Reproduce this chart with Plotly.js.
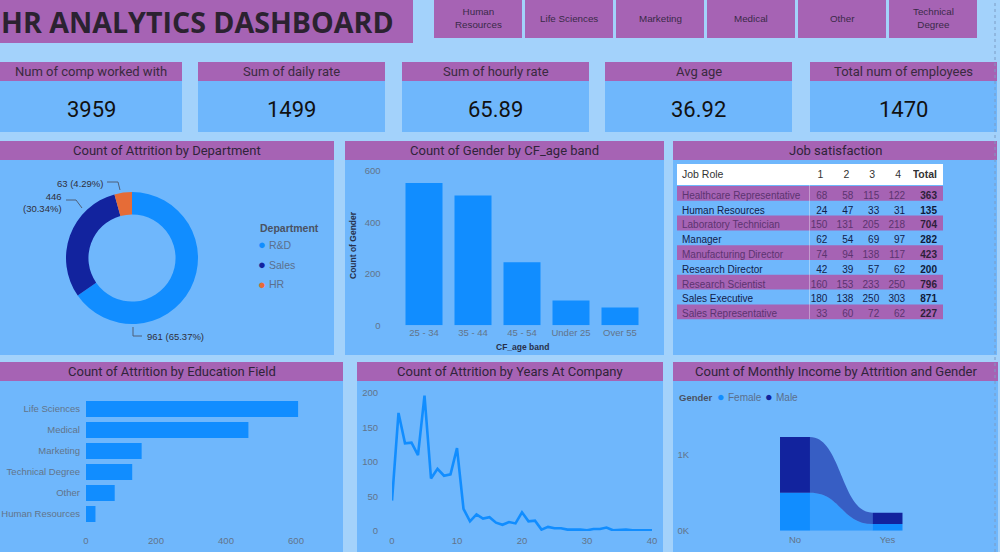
<!DOCTYPE html>
<html>
<head>
<meta charset="utf-8">
<script src="https://cdn.plot.ly/plotly-3.0.1.min.js"></script>
<style>
  html, body { margin: 0; padding: 0; background: #a2d0fb; overflow: hidden; }
  #dash { width: 1000px; height: 552px; }
</style>
</head>
<body>
<div id="dash"></div>
<script>
// ---- KPI cards ----
const kpiLabels = ['Num of comp worked with', 'Sum of daily rate', 'Sum of hourly rate', 'Avg age', 'Total num of employees'];
const kpiValues = ['3959', '1499', '65.89', '36.92', '1470'];

// ---- Education field slicer ----
const fieldButtons = ['Human<br>Resources', 'Life Sciences', 'Marketing', 'Medical', 'Other', 'Technical<br>Degree'];

// ---- Attrition by department ----
const departments = ['R&D', 'Sales', 'HR'];
const deptCounts = [961, 446, 63];

// ---- Gender by age band ----
const ageBands = ['25 - 34', '35 - 44', '45 - 54', 'Under 25', 'Over 55'];
const ageCounts = [554, 505, 245, 97, 69];

// ---- Job satisfaction by job role ----
const tableHeader = ['Job Role', '1', '2', '3', '4', 'Total'];
const jobRoles = ['Healthcare Representative', 'Human Resources', 'Laboratory Technician', 'Manager',
  'Manufacturing Director', 'Research Director', 'Research Scientist', 'Sales Executive', 'Sales Representative'];
const sat1 = [68, 24, 150, 62, 74, 42, 160, 180, 33];
const sat2 = [58, 47, 131, 54, 94, 39, 153, 138, 60];
const sat3 = [115, 33, 205, 69, 138, 57, 233, 250, 72];
const sat4 = [122, 31, 218, 97, 117, 62, 250, 303, 62];
const satTotal = [363, 135, 704, 282, 423, 200, 796, 871, 227];

// ---- Attrition by education field ----
const eduFields = ['Life Sciences', 'Medical', 'Marketing', 'Technical Degree', 'Other', 'Human Resources'];
const eduCounts = [606, 464, 159, 132, 82, 27];

// ---- Attrition by years at company ----
const years = [0, 1, 2, 3, 4, 5, 6, 7, 8, 9, 10, 11, 12, 13, 14, 15, 16, 17, 18, 19, 20, 21, 22, 23, 24, 25, 26, 27,
  29, 30, 31, 32, 33, 34, 36, 37, 40];
const yearCounts = [44, 171, 127, 128, 110, 196, 76, 90, 80, 82, 120, 32, 14, 24, 18, 20, 12, 9, 13, 11, 27, 14, 15, 2, 6, 4, 4, 2,
  2, 1, 3, 3, 5, 1, 2, 1, 1];

// ---- Monthly income count by attrition and gender ----
const attrition = ['No', 'Yes'];
const genders = ['Female', 'Male'];
const femaleCounts = [501, 87];
const maleCounts = [732, 150];

// ---- styling ----
const COL = {
  page: '#a3d2fb', panel: '#6fb7fc', purple: '#a663b4',
  blue: '#118dff', navy: '#12239e', orange: '#e66c37',
  ink: '#30243a', tick: '#62748a', legend: '#5b6f8c'
};
const deptColors = [COL.blue, COL.navy, COL.orange];
const genderColors = [COL.blue, COL.navy];
const DIN = 'Roboto, "Noto Sans", sans-serif';
const UI = '"Liberation Sans", Arial, sans-serif';

// pixel -> paper helpers for the dashboard frame
const W = 1000, H = 552;
const PX = p => p / W;
const PY = p => 1 - p / H;

const shapes = [];
const annotations = [];

function box(x0, y0, x1, y1, color) {
  shapes.push({ type: 'rect', xref: 'paper', yref: 'paper', layer: 'below',
    x0: PX(x0), x1: PX(x1), y0: PY(y1), y1: PY(y0), fillcolor: color, line: { width: 0 } });
}
function label(x, y, text, font, opts) {
  annotations.push(Object.assign({ xref: 'paper', yref: 'paper', x: PX(x), y: PY(y), text: text,
    showarrow: false, xanchor: 'center', yanchor: 'middle', font: font }, opts || {}));
}
function polyline(pts, color, layer) {
  const d = pts.map((p, i) => (i ? 'L' : 'M') + PX(p[0]) + ',' + PY(p[1])).join(' ');
  shapes.push({ type: 'path', xref: 'paper', yref: 'paper', path: d, line: { color: color, width: 1 }, layer: layer || 'above' });
}

// title block and slicer buttons
box(0, 0, 413, 43, COL.purple);
label(-1, 21, '<b>HR ANALYTICS DASHBOARD</b>', { family: '"Open Sans", sans-serif', size: 28.6, color: '#2b2230' }, { xanchor: 'left' });
fieldButtons.forEach((t, i) => {
  const x0 = 434 + i * 91;
  box(x0, 0, x0 + 88, 38, COL.purple);
  label(x0 + 44, 18, t, { family: UI, size: 9.8, color: '#3a2a48' });
});

// KPI cards
const kpiX = [[0, 182], [198, 385], [402, 589], [605, 792], [810, 997]];
kpiLabels.forEach((t, i) => {
  const [a, b] = kpiX[i];
  box(a, 62, b, 81, COL.purple);
  box(a, 81, b, 132, COL.panel);
  label((a + b) / 2, 71.5, t, { family: DIN, size: 13, color: '#3a2a40' });
  label((a + b) / 2, 109, kpiValues[i], { family: DIN, size: 22, color: '#111111' });
});

// visual panels: [x0, y0, x1, y1, title]
const panels = [
  [0, 141, 334, 355, 'Count of Attrition by Department'],
  [345, 141, 664, 355, 'Count of Gender by CF_age band'],
  [673, 141, 997, 355, 'Job satisfaction'],
  [0, 362, 343, 552, 'Count of Attrition by Education Field'],
  [357, 362, 663, 552, 'Count of Attrition by Years At Company'],
  [673, 362, 998, 552, 'Count of Monthly Income by Attrition and Gender']
];
panels.forEach(([x0, y0, x1, y1, t]) => {
  box(x0, y0, x1, y1, COL.panel);
  box(x0, y0, x1, y0 + 19, COL.purple);
  label((x0 + x1) / 2, y0 + 9.5, t, { family: DIN, size: 13, color: COL.ink });
});

// canvas edge
shapes.push({ type: 'line', xref: 'paper', yref: 'paper', x0: PX(995), x1: PX(995), y0: 0, y1: 1,
  line: { color: '#7d9cc4', width: 1, dash: 'dot' } });

// donut labels and leader lines
const deptTotal = deptCounts.reduce((a, b) => a + b, 0);
const pct = v => (v / deptTotal * 100).toFixed(2) + '%';
const pieFont = { family: UI, size: 9.5, color: '#2f2f3a' };
label(145, 336, deptCounts[0] + ' (' + pct(deptCounts[0]) + ')', pieFont, { xanchor: 'left' });
label(64, 203, deptCounts[1] + '<br>(' + pct(deptCounts[1]) + ')', pieFont, { xanchor: 'right', align: 'right' });
label(105, 183, deptCounts[2] + ' (' + pct(deptCounts[2]) + ')', pieFont, { xanchor: 'right' });
polyline([[133, 327], [133, 336], [142, 336]], '#4f5f78');
polyline([[66, 200], [76, 200], [82, 208]], '#4f5f78');
polyline([[107, 182], [118, 182], [120, 190]], '#4f5f78');

// donut legend
label(258, 228, '<b>Department</b>', { family: UI, size: 10.5, color: '#4a5262' }, { xanchor: 'left' });
departments.forEach((d, i) => {
  const y = 245 + i * 19.5;
  label(262, y, '●', { family: UI, size: 13, color: deptColors[i] });
  label(267, y, d, { family: UI, size: 10.5, color: COL.legend }, { xanchor: 'left' });
});

// gender axis titles
label(353, 245, '<b>Count of Gender</b>', { family: UI, size: 8.5, color: '#27304a' }, { textangle: -90 });
label(522, 347, '<b>CF_age band</b>', { family: UI, size: 8.5, color: '#27304a' });

// ribbon chart legend
label(677, 397, '<b>Gender</b>', { family: UI, size: 9.5, color: '#4a5262' }, { xanchor: 'left' });
const legX = [721, 769];
genders.forEach((g, i) => {
  label(legX[i], 397, '●', { family: UI, size: 12.5, color: genderColors[i] });
  label(legX[i] + 5, 397, g, { family: UI, size: 10, color: COL.legend }, { xanchor: 'left' });
});

// ribbons between the No and Yes stacks
const barW = 0.324;
const rx0 = 0 + barW / 2, rx1 = 1 - barW / 2, rxm = (rx0 + rx1) / 2;
const fTop = femaleCounts, mTop = femaleCounts.map((f, i) => f + maleCounts[i]);
shapes.push({ type: 'path', xref: 'x4', yref: 'y4', layer: 'below', fillcolor: 'rgba(17,141,255,0.62)', line: { width: 0 },
  path: `M${rx0},0 L${rx0},${fTop[0]} C${rxm},${fTop[0]} ${rxm},${fTop[1]} ${rx1},${fTop[1]} L${rx1},0 Z` });
shapes.push({ type: 'path', xref: 'x4', yref: 'y4', layer: 'below', fillcolor: 'rgba(18,35,158,0.6)', line: { width: 0 },
  path: `M${rx0},${fTop[0]} L${rx0},${mTop[0]} C${rxm},${mTop[0]} ${rxm},${mTop[1]} ${rx1},${mTop[1]} ` +
        `L${rx1},${fTop[1]} C${rxm},${fTop[1]} ${rxm},${fTop[0]} ${rx0},${fTop[0]} Z` });

// table backdrop: white header band and striped rows behind the table text
const ROW_H = 14.8;
box(677, 164, 943, 185, '#ffffff');
jobRoles.forEach((_, i) => {
  if (i % 2 === 0) box(677, 186 + i * ROW_H, 943, 186 + (i + 1) * ROW_H, COL.purple);
});
polyline([[809.5, 164], [809.5, 186 + jobRoles.length * ROW_H]], 'rgba(255,255,255,0.35)', 'below');

// table text; non-breaking spaces keep each role on one compact line
const nb = s => s.replace(/ /g, '\u00a0');
const rowInk = jobRoles.map((_, i) => i % 2 === 0 ? '#5c3470' : '#10204a');
const totalInk = jobRoles.map((_, i) => i % 2 === 0 ? '#2e1f3a' : '#0e1a3a');
const clear = 'rgba(0,0,0,0)';

const tickFont = { family: UI, size: 9.5, color: COL.tick };
const baseAxis = { showgrid: false, zeroline: false, showline: false, ticks: '', fixedrange: true, tickfont: tickFont };

const traces = [
  {
    type: 'pie', values: deptCounts, labels: departments, marker: { colors: deptColors },
    hole: 0.66, sort: false, direction: 'clockwise', rotation: 0, textinfo: 'none', hoverinfo: 'skip',
    showlegend: false, domain: { x: [PX(66), PX(198)], y: [PY(324), PY(192)] }
  },
  {
    type: 'bar', x: ageBands, y: ageCounts, xaxis: 'x', yaxis: 'y',
    marker: { color: COL.blue }, hoverinfo: 'skip', showlegend: false
  },
  {
    type: 'table', domain: { x: [PX(674), PX(946)], y: [PY(330), PY(161.7)] },
    columnwidth: [136, 26, 26, 26, 26, 32],
    header: {
      values: tableHeader.map(nb),
      align: ['left', 'left', 'left', 'left', 'left', 'right'],
      fill: { color: clear }, line: { color: clear, width: 0 },
      font: { family: UI, size: 10.5, color: '#333333', weight: [400, 400, 400, 400, 400, 700] }, height: 21.5
    },
    cells: {
      values: [jobRoles.map(nb), sat1, sat2, sat3, sat4, satTotal],
      align: ['left', 'right', 'right', 'right', 'right', 'right'],
      fill: { color: clear },
      line: { color: clear, width: 0 },
      font: { family: UI, size: 10, color: [rowInk, rowInk, rowInk, rowInk, rowInk, totalInk],
        weight: [400, 400, 400, 400, 400, 700] },
      height: ROW_H
    }
  },
  {
    type: 'bar', orientation: 'h', x: eduCounts, y: eduFields, xaxis: 'x2', yaxis: 'y2',
    marker: { color: COL.blue }, hoverinfo: 'skip', showlegend: false
  },
  {
    type: 'scatter', mode: 'lines', x: years, y: yearCounts, xaxis: 'x3', yaxis: 'y3',
    line: { color: COL.blue, width: 2.6 }, cliponaxis: false, hoverinfo: 'skip', showlegend: false
  },
  {
    type: 'bar', x: [0, 1], y: femaleCounts, width: barW, name: genders[0], xaxis: 'x4', yaxis: 'y4',
    marker: { color: genderColors[0] }, hoverinfo: 'skip', showlegend: false
  },
  {
    type: 'bar', x: [0, 1], y: maleCounts, base: femaleCounts, width: barW, name: genders[1], xaxis: 'x4', yaxis: 'y4',
    marker: { color: genderColors[1] }, hoverinfo: 'skip', showlegend: false
  }
];

const layout = {
  width: W, height: H,
  margin: { l: 0, r: 0, t: 0, b: 0 },
  paper_bgcolor: COL.page, plot_bgcolor: 'rgba(0,0,0,0)',
  font: { family: UI, color: COL.tick },
  barmode: 'overlay', bargap: 0.245,
  showlegend: false,
  // gender by age band
  xaxis: Object.assign({}, baseAxis, { domain: [PX(399.5), PX(644.5)], anchor: 'y', type: 'category' }),
  yaxis: Object.assign({}, baseAxis, { domain: [PY(325.3), PY(166)], anchor: 'x', range: [0, 620],
    tickvals: [0, 200, 400, 600], ticklabelstandoff: 18 }),
  // education field
  xaxis2: Object.assign({}, baseAxis, { domain: [PX(86), PX(331)], anchor: 'y2', range: [0, 700],
    tickvals: [0, 200, 400, 600], ticklabelstandoff: 9 }),
  yaxis2: Object.assign({}, baseAxis, { domain: [PY(524.5), PY(398.5)], anchor: 'x2', type: 'category',
    autorange: 'reversed', ticklabelstandoff: 5 }),
  // years at company
  xaxis3: Object.assign({}, baseAxis, { domain: [PX(392), PX(652)], anchor: 'y3', range: [0, 40],
    tickvals: [0, 10, 20, 30, 40], ticklabelstandoff: 2 }),
  yaxis3: Object.assign({}, baseAxis, { domain: [PY(531), PY(386)], anchor: 'x3', range: [0, 210],
    tickvals: [0, 50, 100, 150, 200], ticklabelstandoff: 13 }),
  // monthly income ribbon
  xaxis4: Object.assign({}, baseAxis, { domain: [PX(695), PX(990)], anchor: 'y4', range: [-1.081, 2.108],
    tickvals: [0, 1], ticktext: attrition, ticklabelstandoff: 2 }),
  yaxis4: Object.assign({}, baseAxis, { domain: [PY(530.7), PY(405)], anchor: 'x4', range: [0, 1654],
    tickvals: [0, 1000], ticktext: ['0K', '1K'], ticklabelstandoff: 5 }),
  shapes: shapes,
  annotations: annotations
};

Plotly.newPlot('dash', traces, layout, { staticPlot: true, displayModeBar: false });
</script>
</body>
</html>
